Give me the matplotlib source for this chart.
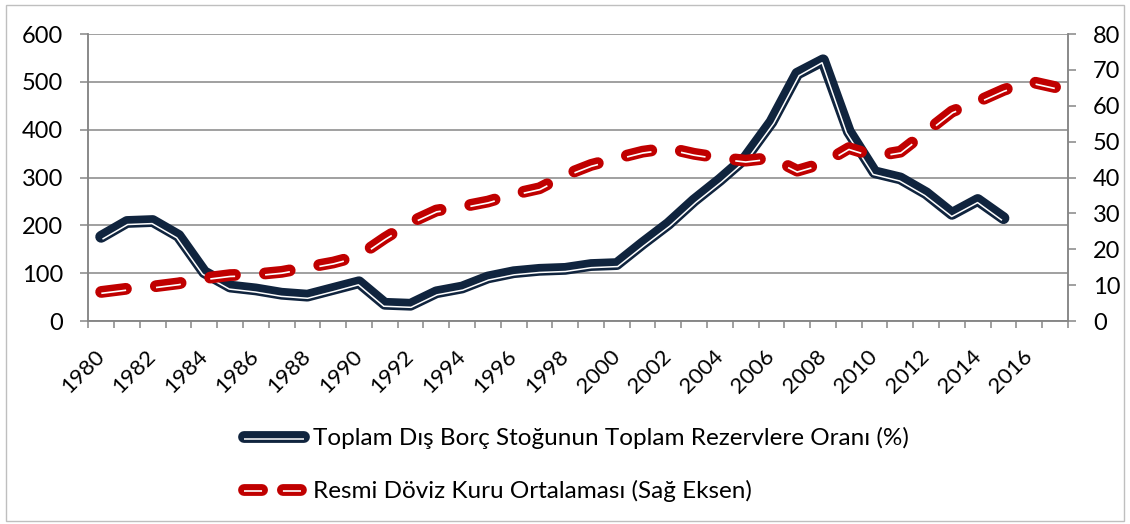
import numpy as np
import matplotlib
matplotlib.use("Agg")
import matplotlib.pyplot as plt
import matplotlib.patheffects as pe
from matplotlib.path import Path
from matplotlib.transforms import Affine2D
from matplotlib.lines import Line2D
from matplotlib.patches import Rectangle

# veriler (grafikten okunan yaklasik degerler)
years = list(range(1980, 2018))
borc_orani = [176, 207, 209, 178, 102, 72, 66, 57, 53, 67, 81, 36, 34, 60, 70, 91,
              102, 107, 109, 117, 119, 162, 203, 252, 295, 342, 416, 517, 545, 396,
              311, 298, 267, 224, 253, 215]
doviz_kuru = [8.1, 9.0, 9.6, 10.5, 11.9, 12.8, 13.0, 13.7, 15.0, 16.3, 18.2, 23.1,
              27.5, 30.8, 31.9, 33.3, 35.4, 37.0, 40.7, 43.5, 45.4, 47.2, 48.2, 46.6,
              45.5, 44.7, 45.5, 41.9, 44.0, 48.2, 46.0, 47.2, 52.8, 58.4, 61.2, 64.4,
              66.8, 65.2]
label_borc = "Toplam Dış Borç Stoğunun Toplam Rezervlere Oranı (%)"
label_kur = "Resmi Döviz Kuru Ortalaması (Sağ Eksen)"

navy = "#10243e"
red = "#c00000"
grid_gray = "#868686"

plt.rcParams['font.family'] = ['Lato', 'DejaVu Sans']
plt.rcParams['lines.scale_dashes'] = False


class InnerLine(pe.AbstractPathEffect):
    # Excel'deki "kalin-ince" cizgi icin: cizginin saginda ince beyaz serit
    def __init__(self, dist, lw, color='white'):
        super().__init__()
        self.dist, self.lw, self.color = dist, lw, color

    def draw_path(self, renderer, gc, tpath, affine, rgbFace=None):
        v = affine.transform(tpath.vertices)
        d = renderer.points_to_pixels(self.dist)
        seg = np.diff(v, axis=0)
        ln = np.hypot(seg[:, 0], seg[:, 1])
        ln[ln == 0] = 1
        n = np.column_stack([seg[:, 1], -seg[:, 0]]) / ln[:, None]
        nv = np.zeros_like(v)
        nv[:-1] += n
        nv[1:] += n
        nv /= np.maximum(np.hypot(nv[:, 0], nv[:, 1]), 1e-9)[:, None]
        gc0 = renderer.new_gc()
        gc0.copy_properties(gc)
        gc0.set_linewidth(self.lw)
        gc0.set_foreground(self.color)
        gc0.set_capstyle('butt')
        renderer.draw_path(gc0, Path(v + nv * d), Affine2D())
        gc0.restore()


fig = plt.figure(figsize=(11.3, 5.24), dpi=100)
ax = fig.add_axes([0.0781, 0.3874, 0.8670, 0.5477])
ax2 = ax.twinx()

x1 = np.arange(len(borc_orani))
x2 = np.arange(len(doviz_kuru))

navy_fx = [pe.Normal(), InnerLine(1.9, 1.1)]
red_fx = [pe.Normal(), InnerLine(1.0, 1.2)]

ax.plot(x1, borc_orani, color=navy, lw=8.5, solid_capstyle='round',
        solid_joinstyle='round', path_effects=navy_fx, zorder=3)
ax2.plot(x2, doviz_kuru, color=red, lw=8.5, ls=(0, (18, 21.6)),
         dash_capstyle='round', dash_joinstyle='round', path_effects=red_fx)

ax.set_xlim(-0.5, len(years) - 0.5)
ax.set_ylim(0, 600)
ax2.set_ylim(0, 80)
ax.set_yticks(range(0, 601, 100))
ax2.set_yticks(range(0, 81, 10))

ax.set_xticks(x2[::2])
ax.set_xticklabels([str(y) for y in years[::2]], rotation=45, ha='right',
                   va='center', rotation_mode='anchor')
ax.set_xticks(np.arange(-0.5, len(years), 1), minor=True)
ax.tick_params(axis='x', which='major', length=0, pad=23, labelsize=16)
ax.tick_params(axis='x', which='minor', length=5, width=1.1, color=grid_gray)
ax.tick_params(axis='y', length=6, width=1.1, color=grid_gray, pad=12, labelsize=17)
ax2.tick_params(axis='y', length=6, width=1.1, color=grid_gray, pad=12, labelsize=17)

ax.grid(axis='y', color=grid_gray, lw=1.1)
ax.set_axisbelow(True)
for a in (ax, ax2):
    a.spines['top'].set_visible(False)
    for s in ('left', 'right', 'bottom'):
        a.spines[s].set_color(grid_gray)
        a.spines[s].set_linewidth(1.1)

# lejant
h1 = Line2D([], [], color=navy, lw=8.5, solid_capstyle='round', path_effects=navy_fx)
h2 = Line2D([], [], color=red, lw=8.5, ls=(0, (13, 15)), dash_capstyle='round',
            path_effects=red_fx)
fig.legend([h1, h2], [label_borc, label_kur], loc='upper left',
           bbox_to_anchor=(0.205, 0.208), bbox_transform=fig.transFigure,
           frameon=False, fontsize=17.5, handlelength=2.47, handletextpad=0.37,
           labelspacing=1.27, borderpad=0)

fig.patches.append(Rectangle((0.005, 0.006), 0.99, 0.985, transform=fig.transFigure,
                             fill=False, ec='#bfbfbf', lw=1))

fig.savefig("out.png", dpi=100)
